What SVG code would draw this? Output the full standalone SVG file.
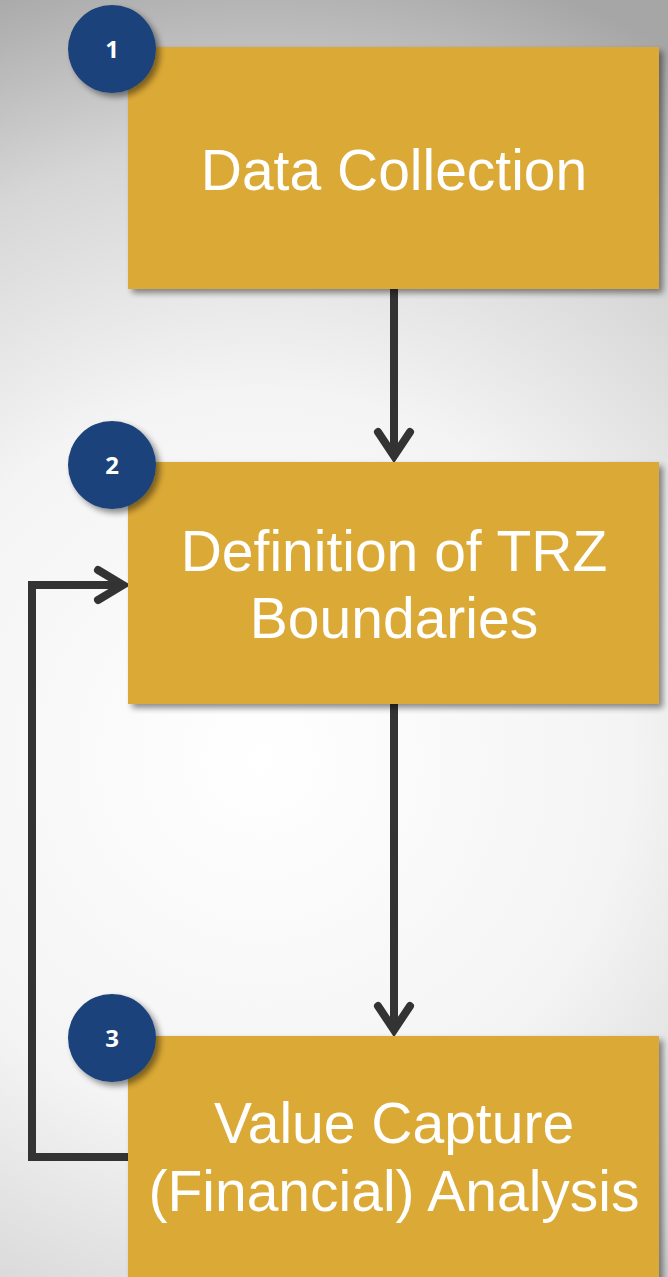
<svg xmlns="http://www.w3.org/2000/svg" width="668" height="1277" viewBox="0 0 668 1277">
  <defs>
    <radialGradient id="bg" cx="260" cy="760" r="820" gradientUnits="userSpaceOnUse">
      <stop offset="0" stop-color="#ffffff"/>
      <stop offset="0.45" stop-color="#f4f4f4"/>
      <stop offset="0.75" stop-color="#d6d6d6"/>
      <stop offset="1" stop-color="#a6a6a6"/>
    </radialGradient>
    <filter id="shadow" x="-10%" y="-10%" width="130%" height="130%">
      <feGaussianBlur in="SourceAlpha" stdDeviation="3"/>
      <feOffset dx="4" dy="4" result="b"/>
      <feComponentTransfer><feFuncA type="linear" slope="0.45"/></feComponentTransfer>
      <feMerge><feMergeNode/><feMergeNode in="SourceGraphic"/></feMerge>
    </filter>
    <style>
      .box { fill: #dba935; filter: url(#shadow); }
      .badge { fill: #1a437c; filter: url(#shadow); }
      .label { font-family: "Liberation Sans", Arial, sans-serif; font-size: 57px; fill: #ffffff; text-anchor: middle; }
      .num { font-family: "Open Sans", "Liberation Sans", sans-serif; font-weight: bold; font-size: 24px; fill: #ffffff; text-anchor: middle; }
      .link { fill: none; stroke: #333333; stroke-width: 8; }
      .head { fill: none; stroke: #333333; stroke-width: 8; stroke-linecap: round; stroke-linejoin: miter; }
    </style>
  </defs>

  <rect width="668" height="1277" fill="url(#bg)"/>

  <!-- connectors -->
  <g id="connectors">
    <path class="link" d="M394,289 V454"/>
    <path class="head" d="M378,432 L394,456 L410,432"/>
    <path class="link" d="M394,704 V1028"/>
    <path class="head" d="M378,1006 L394,1030 L410,1006"/>
    <path class="link" d="M128,1157 H32 V585 H122"/>
    <path class="head" d="M98,570 L123,585 L98,600"/>
  </g>

  <g id="node1">
    <rect class="box" x="128" y="47" width="531" height="242"/>
    <text class="label" x="394" y="190">Data Collection</text>
    <circle class="badge" cx="112" cy="49" r="44"/>
    <text class="num" x="112" y="58">1</text>
  </g>

  <g id="node2">
    <rect class="box" x="128" y="462" width="531" height="242"/>
    <text class="label" x="394" y="571">Definition of TRZ</text>
    <text class="label" x="394" y="638">Boundaries</text>
    <circle class="badge" cx="112" cy="465" r="44"/>
    <text class="num" x="112" y="474">2</text>
  </g>

  <g id="node3">
    <rect class="box" x="128" y="1036" width="531" height="260"/>
    <text class="label" x="394" y="1143">Value Capture</text>
    <text class="label" x="394" y="1211">(Financial) Analysis</text>
    <circle class="badge" cx="112" cy="1038" r="44"/>
    <text class="num" x="112" y="1047">3</text>
  </g>
</svg>
